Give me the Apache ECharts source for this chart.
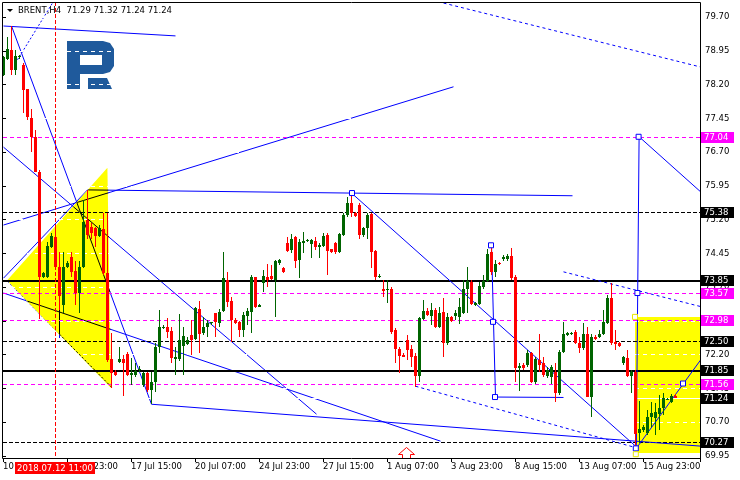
<!DOCTYPE html>
<html><head><meta charset="utf-8">
<script src="https://cdn.jsdelivr.net/npm/echarts@6/dist/echarts.min.js"></script>
<style>html,body{margin:0;padding:0;background:#fff}#c{width:740px;height:480px}</style>
</head><body><div id="c"></div>
<script>
// ---------- DATA (BRENT, H4) ----------
const opens  = [78.41,78.76,78.97,78.52,78.82,78.63,78.09,77.46,77.04,76.26,73.92,73.93,74.60,74.82,74.15,73.30,74.15,74.37,74.07,73.57,74.15,75.19,75.04,75.01,74.84,74.99,74.02,72.10,71.82,72.04,72.10,72.21,71.75,71.75,71.87,71.53,71.80,71.42,71.60,72.38,72.81,72.82,72.73,72.10,72.10,72.39,72.44,72.64,72.54,73.21,72.69,72.81,72.91,73.12,72.91,73.18,73.87,73.40,72.97,72.93,72.75,73.06,73.15,73.92,73.27,73.79,73.93,73.95,73.87,74.23,74.12,74.69,74.52,74.81,74.30,74.69,74.74,74.66,74.73,74.59,74.61,74.86,74.54,74.69,74.47,74.86,75.30,75.56,75.35,75.52,74.86,75.01,75.32,74.51,73.94,73.67,73.64,73.65,72.75,72.32,72.20,72.53,72.32,72.17,71.73,72.99,73.18,73.06,73.19,72.82,73.15,72.45,73.04,73.06,73.04,73.12,73.67,73.82,73.30,73.33,73.71,73.84,74.47,74.04,74.23,74.32,74.32,74.39,73.93,71.90,71.97,71.97,72.23,71.60,72.08,72.02,71.73,71.71,71.81,71.34,72.27,72.64,72.67,72.71,72.47,72.34,72.66,71.27,72.60,72.59,72.66,72.91,73.45,72.49,72.47,72.01,72.13,71.73,71.82,70.47,70.53,70.47,70.81,70.79,70.88,71.01,71.21,71.16,71.29];
const highs  = [78.83,79.26,79.50,78.97,78.86,78.68,78.10,77.66,77.19,76.30,74.04,74.71,74.90,75.04,74.49,74.49,74.27,74.49,74.27,74.27,75.64,75.86,75.12,75.04,75.08,75.35,75.35,72.68,71.86,72.38,72.19,72.27,72.13,72.01,71.95,71.82,71.82,71.82,72.46,73.19,72.86,73.01,72.82,72.38,73.10,72.82,72.60,72.97,73.27,73.40,73.04,72.97,72.93,73.13,73.21,74.47,74.04,73.49,73.01,72.95,73.15,73.23,73.97,73.93,73.33,74.08,74.21,74.19,74.30,74.33,74.14,74.82,74.88,74.84,74.76,74.93,74.78,74.76,74.82,74.69,74.90,74.90,74.55,74.71,74.90,75.34,75.71,75.79,75.37,75.56,75.04,75.34,75.35,74.52,74.00,73.86,73.86,73.71,72.79,72.38,72.23,72.64,72.42,72.23,73.04,73.41,73.23,73.35,73.23,73.27,73.45,73.13,73.06,73.19,73.45,73.86,74.14,73.86,73.38,73.82,73.97,74.54,74.60,74.30,74.25,74.41,74.44,74.56,73.97,72.01,72.01,72.30,72.27,72.15,72.66,72.15,71.93,71.97,72.02,72.30,72.93,72.71,72.71,72.75,72.60,72.91,72.82,72.66,72.64,72.75,73.19,73.53,73.79,72.75,72.49,72.17,72.30,71.86,71.86,71.18,70.64,70.97,71.16,71.12,71.30,71.34,71.23,71.32,71.32];
const lows   = [78.39,78.74,78.41,78.41,78.77,77.57,77.41,76.71,76.26,72.99,73.90,73.90,74.57,74.13,73.19,73.13,74.12,73.93,73.30,73.13,74.12,74.76,74.78,74.60,74.82,73.97,72.04,71.46,71.73,72.01,71.28,71.73,71.53,71.71,71.81,71.49,71.38,71.10,71.37,72.24,72.77,72.57,72.01,71.75,72.05,71.75,72.42,72.19,72.53,72.24,72.64,72.60,72.86,72.60,72.82,73.15,73.27,72.49,72.88,72.60,72.60,72.86,72.69,73.23,73.25,73.60,73.71,73.86,73.04,74.19,74.02,74.49,74.45,74.12,73.90,74.45,74.71,74.34,74.52,74.34,74.60,73.97,74.45,74.44,74.45,74.84,75.26,75.25,75.26,74.78,74.82,74.78,74.12,73.86,73.90,73.49,73.34,72.67,72.02,71.80,72.14,72.08,71.93,71.49,71.60,72.97,73.06,72.86,72.79,72.79,72.15,72.42,72.93,72.97,72.89,73.10,73.12,73.30,73.28,73.30,73.67,73.82,73.97,73.93,74.19,74.27,74.27,73.86,71.60,71.40,71.86,71.93,71.58,71.56,71.82,71.71,71.69,71.56,71.16,71.30,72.23,72.61,72.64,72.44,72.23,72.30,71.25,70.82,72.53,72.56,72.64,72.88,72.42,72.30,72.38,71.97,71.71,71.34,70.12,70.23,70.49,70.42,70.60,70.42,70.53,70.86,71.20,71.12,71.24];
const closes = [78.82,78.98,78.52,78.83,78.83,78.08,77.47,77.03,76.26,73.92,74.02,74.61,74.84,74.15,73.50,74.15,74.24,74.04,73.57,74.15,75.15,74.86,74.90,74.84,75.01,74.01,72.08,71.80,71.75,72.10,72.01,71.75,71.80,71.84,71.88,71.80,71.42,71.60,72.38,72.82,72.82,72.71,72.13,72.15,72.53,72.61,72.53,72.53,73.23,72.67,72.82,72.91,72.92,72.93,73.15,73.90,73.38,72.97,72.91,72.75,73.08,73.18,73.93,73.27,73.30,73.95,73.87,73.89,74.27,74.30,74.04,74.51,74.78,74.29,74.71,74.72,74.75,74.75,74.59,74.64,74.84,74.51,74.48,74.47,74.88,75.30,75.56,75.34,75.28,74.86,75.01,75.30,74.49,73.93,73.95,73.62,73.66,72.71,72.32,72.17,72.15,72.30,72.15,71.73,73.01,73.18,73.08,73.19,72.82,73.13,72.45,73.04,72.95,73.13,73.27,73.67,73.84,73.33,73.35,73.73,73.84,74.44,74.04,74.21,74.21,74.36,74.39,73.90,71.90,71.95,71.90,72.24,71.60,72.10,71.97,71.75,71.87,71.92,71.34,72.27,72.66,72.69,72.68,72.45,72.34,72.66,71.27,72.60,72.54,72.66,72.93,73.45,72.47,72.44,72.39,72.15,71.73,71.82,70.45,70.56,70.60,70.82,70.91,70.93,71.01,71.23,71.22,71.28,71.24];

const timeTickIndex  = [0,16,32,48,64,80,96,112,128,144,160];
const timeTickLabels = ['10 Jul 07:00','12 Jul 23:00','17 Jul 15:00','20 Jul 07:00','24 Jul 23:00','27 Jul 15:00','1 Aug 07:00','3 Aug 23:00','8 Aug 15:00','13 Aug 07:00','15 Aug 23:00'];
const priceTickStart = 69.95, priceTickStep = 0.75;
const plotMinPrice = 69.906, plotMaxPrice = 80.033, lastSlot = 174.25;

// horizontal levels
const levelsSolid       = [73.85, 71.85];
const levelsDashBlack   = [75.38, 72.50, 70.27];
const levelsDashMagenta = [77.04, 73.57, 72.98, 71.56];
const bidLevel          = [71.24];
const tagsBlack   = [75.38, 73.85, 72.50, 71.85, 71.24, 70.27];
const tagsMagenta = [77.04, 73.57, 72.98, 71.56];

// trend lines [bar1, price1, bar2, price2]
const trendUnder = [
  [0, 79.50, 43, 79.28],
  [2, 79.50, 37, 71.10],
  [0, 76.81, 78.25, 70.88],
  [0, 75.08, 112.5, 78.15],
  [21, 75.86, 142.25, 75.73],
  [0, 73.57, 109.25, 70.28],
  [0, 73.90, 21, 75.86],
  [14, 73.79, 14, 72.57]
];
const trendUnderDotted = [
  [1, 73.83, 27, 71.48],
  [3.5, 78.75, 12.25, 80.01]
];
const trendOver = [
  [37, 71.10, 174.25, 70.17],
  [87, 75.79, 158.25, 70.15],
  [122, 74.63, 122.5, 72.93],
  [122.5, 72.93, 123, 71.26],
  [123, 71.26, 140, 71.25],
  [158.2, 70.12, 158.9, 77.04],
  [158.9, 77.04, 174.25, 75.82],
  [158.2, 70.12, 174.25, 72.08]
];
const trendOverDotted = [
  [103, 71.50, 157.5, 70.15],
  [140, 74.04, 174.25, 73.27],
  [110, 80.01, 174.25, 78.59]
];
const triangleZone = [[1, 73.85], [26.1, 76.35], [27, 71.46]];
const rectZone = [[158, 73.04], [180, 70.02]];
const anchorPoints = [[87.25,75.79],[122,74.63],[122.5,72.93],[123,71.26],[158.9,77.04],[158.6,73.57],[158.2,70.12],[170,71.56]];
const zoneAnchors = [[158,73.04],[158.2,69.99]];
const arrowMarks = [[100.75, 70.15]];
const cursorBar = 13, cursorLabel = '2018.07.12 11:00';
const headerText = 'BRENT,H4  71.29 71.32 71.24 71.24';

// ---------- CHART ----------
const FONT = 'DejaVu Sans';
const GREEN = '#006400', RED = '#ff0000', BLUE = '#0000ff', MAGENTA = '#ff00ff';
const LOGO = '#1f5a9c';

// clip segment a-b against convex polygon (Cyrus-Beck), returns [p,q] or null
function clipToPoly(a, b, poly){
  let t0 = 0, t1 = 1;
  const dx = b[0]-a[0], dy = b[1]-a[1];
  // orientation
  let area = 0;
  for (let k = 0; k < poly.length; k++){ const p = poly[k], q = poly[(k+1)%poly.length]; area += p[0]*q[1]-q[0]*p[1]; }
  const s = area > 0 ? 1 : -1;
  for (let k = 0; k < poly.length; k++){
    const p = poly[k], q = poly[(k+1)%poly.length];
    const nx = -(q[1]-p[1])*s, ny = (q[0]-p[0])*s; // inward normal
    const num = nx*(a[0]-p[0]) + ny*(a[1]-p[1]);
    const den = nx*dx + ny*dy;
    if (Math.abs(den) < 1e-9){ if (num < 0) return null; continue; }
    const t = -num/den;
    if (den > 0) t0 = Math.max(t0, t); else t1 = Math.min(t1, t);
    if (t0 > t1) return null;
  }
  return [[a[0]+dx*t0, a[1]+dy*t0], [a[0]+dx*t1, a[1]+dy*t1]];
}

function segSeries(segs, dash, z, insideZone){
  return {type:'custom', xAxisIndex:0, yAxisIndex:0, z, clip:true, silent:true,
    encode:{x:[0,2], y:[1,3]}, data: segs,
    renderItem(params, api){
      let a = api.coord([api.value(0), api.value(1)]);
      let b = api.coord([api.value(2), api.value(3)]);
      let color = BLUE;
      if (insideZone){
        const poly = triangleZone.map(p => api.coord(p));
        const r = clipToPoly(a, b, poly);
        if (!r) return null;
        a = r[0]; b = r[1]; color = '#000';
      }
      const st = {stroke:color, lineWidth:1};
      if (dash) st.lineDash = dash;
      return {type:'line', shape:{x1:a[0]+0.5, y1:a[1], x2:b[0]+0.5, y2:b[1]}, style:st};
    }};
}
function hLineSeries(levels, color, width, dash, z){
  return {type:'custom', xAxisIndex:0, yAxisIndex:0, z, clip:false, silent:true,
    data: levels.map(v => [0, v]),
    renderItem(params, api){
      const cs = params.coordSys;
      const y = api.coord([0, api.value(1)])[1];
      const yy = width === 2 ? Math.round(y) + 1 : Math.round(y) + 0.5;
      const st = {stroke:color, lineWidth:width};
      if (dash) st.lineDash = dash;
      return {type:'line', shape:{x1:cs.x, y1:yy, x2:cs.x + cs.width, y2:yy}, style:st};
    }};
}
function tagSeries(levels, color){
  return {type:'custom', xAxisIndex:0, yAxisIndex:0, z:8, clip:false, silent:true,
    data: levels.map(v => [0, v]),
    renderItem(params, api){
      const cs = params.coordSys;
      const v = api.value(1);
      const y = Math.round(api.coord([0, v])[1]);
      const x0 = cs.x + cs.width + 1;
      return {type:'group', children:[
        {type:'rect', shape:{x:x0, y:y-5, width:33, height:11}, style:{fill:color}},
        {type:'text', x:x0+3, y:y+0.5, style:{text:v.toFixed(2), fill:'#fff', font:'8.5px "DejaVu Sans"', verticalAlign:'middle', align:'left'}}
      ]};
    }};
}

const chart = echarts.init(document.getElementById('c'), null, {renderer:'canvas', width:740, height:480});
const option = {
  backgroundColor:'#ffffff',
  animation:false,
  grid:[
    {left:3, right:40, top:2, bottom:22, show:false},
    {left:3, right:40, top:2, bottom:24, show:false}
  ],
  xAxis:[
    {type:'value', gridIndex:0, min:0, max:lastSlot, interval:16, position:'bottom',
     axisLine:{show:false}, axisTick:{show:true, length:4, lineStyle:{color:'#000'}},
     splitLine:{show:false},
     axisLabel:{show:true, align:'left', margin:4, color:'#000', fontFamily:FONT, fontSize:8.5,
       formatter: v => { const k = timeTickIndex.indexOf(Math.round(v)); return (k >= 0 && Math.abs(v-Math.round(v))<1e-6) ? timeTickLabels[k] : ''; }}},
    {type:'value', gridIndex:1, min:0, max:lastSlot, show:false}
  ],
  yAxis:[
    {type:'value', gridIndex:0, min:plotMinPrice, max:plotMaxPrice, show:false},
    {type:'value', gridIndex:1, min:priceTickStart, max:plotMaxPrice, interval:priceTickStep, position:'right', z:3,
     axisLine:{show:false}, axisTick:{show:true, length:3, lineStyle:{color:'#000'}},
     splitLine:{show:true, lineStyle:{color:'#ffffff', type:[4,4], width:1}},
     axisLabel:{show:true, margin:5, color:'#000', fontFamily:FONT, fontSize:8.5,
       formatter: v => { const k = (v - priceTickStart)/priceTickStep; return Math.abs(k - Math.round(k)) < 1e-6 ? v.toFixed(2) : ''; }}}
  ],
  graphic:[
    {type:'rect', z:100, silent:true, shape:{x:2.5, y:2.5, width:698, height:456}, style:{fill:'transparent', stroke:'#000', lineWidth:1}},
    {type:'polygon', z:100, shape:{points:[[7,9],[13,9],[10,12]]}, style:{fill:'#000'}},
    {type:'text', z:100, x:18, y:11, style:{text:headerText, fill:'#000', font:'8.5px "DejaVu Sans"', verticalAlign:'middle'}},
    {type:'polygon', z:1, shape:{points:[[67,41],[103,41],[110,43],[114,49],[114,66],[110,72],[103,74],[80,74],[80,89],[67,89]]}, style:{fill:LOGO}},
    {type:'rect', z:1, shape:{x:80, y:55, width:22, height:10}, style:{fill:'#ffffff'}},
    {type:'polygon', z:1, shape:{points:[[88,78],[107,78],[112,89],[88,89]]}, style:{fill:LOGO}}
  ],
  series:[
    segSeries(trendUnder, null, 1, false),
    segSeries(trendUnderDotted, [2,2], 1, false),
    {type:'custom', xAxisIndex:0, yAxisIndex:0, z:2, clip:true, silent:true,
     data:[[0, 72]],
     renderItem(params, api){
       return {type:'polygon', shape:{points: triangleZone.map(p => api.coord(p))},
         style:{fill:'#ffff00'}};
     }},
    {type:'custom', xAxisIndex:0, yAxisIndex:0, z:2, clip:true, silent:true,
     data:[[0, 72]],
     renderItem(params, api){
       const a = api.coord(rectZone[0]), b = api.coord(rectZone[1]);
       return {type:'rect', shape:{x:Math.round(a[0]), y:Math.round(a[1]), width:b[0]-a[0], height:Math.round(b[1])-Math.round(a[1])},
         style:{fill:'#ffff00'}};
     }},
    segSeries(trendUnder, null, 3, true),
    segSeries(trendUnderDotted, [2,2], 3, true),
    hLineSeries(levelsDashBlack, '#000', 1, [4,2], 4),
    hLineSeries(levelsDashMagenta, MAGENTA, 1, [4,3], 4),
    hLineSeries(levelsSolid, '#000', 2, null, 4),
    hLineSeries(bidLevel, '#fff', 1, null, 4),
    {type:'custom', xAxisIndex:0, yAxisIndex:0, z:7, clip:false, silent:true,
     data:[[cursorBar, plotMinPrice]],
     renderItem(params, api){
       const cs = params.coordSys;
       const x = Math.round(api.coord([api.value(0), api.value(1)])[0]);
       const dashes = [];
       for (let y = cs.y; y < cs.y + cs.height; y += 6) {
         dashes.push({type:'rect', shape:{x:x, y:y, width:1, height:Math.min(4, cs.y + cs.height - y)}, style:{fill:'#ff0000'}});
       }
       return {type:'group', children:dashes};
     }},
    segSeries(trendOver, null, 4, false),
    segSeries(trendOverDotted, [3,3], 4, false),
    {type:'custom', name:'BRENT', xAxisIndex:0, yAxisIndex:0, z:5, clip:true, silent:true,
     encode:{x:0, y:[1,2,3,4]},
     data: opens.map((o,k) => [k, o, highs[k], lows[k], closes[k]]),
     renderItem(params, api){
       const i = api.value(0), o = api.value(1), h = api.value(2), l = api.value(3), c = api.value(4);
       const ph = api.coord([i,h]), pl = api.coord([i,l]), po = api.coord([i,o]), pc = api.coord([i,c]);
       const col = c >= o ? GREEN : RED;
       const cx = Math.round(ph[0]);
       const yh = Math.round(ph[1]), yl = Math.round(pl[1]);
       const yt = Math.round(Math.min(po[1], pc[1])), yb = Math.round(Math.max(po[1], pc[1]));
       return {type:'group', children:[
         {type:'rect', shape:{x:cx, y:yh, width:1, height:Math.max(1, yl-yh)}, style:{fill:col}},
         {type:'rect', shape:{x:cx-1, y:yt, width:3, height:Math.max(1, yb-yt)}, style:{fill:col}}
       ]};
     }},
    {type:'custom', xAxisIndex:0, yAxisIndex:0, z:6, clip:true, silent:true,
     data: arrowMarks,
     renderItem(params, api){
       const p = api.coord([api.value(0), api.value(1)]);
       const x = Math.round(p[0]) + 0.5, y = Math.round(p[1]) + 0.5;
       return {type:'polygon', shape:{points:[[x,y],[x+8,y+7],[x+4,y+7],[x+4,y+13],[x-4,y+13],[x-4,y+7],[x-8,y+7]]},
         style:{fill:'transparent', stroke:'#ff0000', lineWidth:1}};
     }},
    {type:'scatter', xAxisIndex:0, yAxisIndex:0, z:6, silent:true, clip:false,
     symbol:'rect', symbolSize:5, data: anchorPoints,
     itemStyle:{color:'#ffffff', borderColor:BLUE, borderWidth:1, opacity:1}},
    {type:'scatter', xAxisIndex:0, yAxisIndex:0, z:6, silent:true, clip:false,
     symbol:'rect', symbolSize:5, data: zoneAnchors,
     itemStyle:{color:'#ffffff', borderColor:'#e8e800', borderWidth:1, opacity:1}},
    tagSeries(tagsBlack, '#000'),
    tagSeries(tagsMagenta, MAGENTA),
    {type:'custom', xAxisIndex:0, yAxisIndex:0, z:9, clip:false, silent:true,
     data:[[cursorBar, plotMinPrice]],
     renderItem(params, api){
       const cs = params.coordSys;
       const x = Math.round(api.coord([api.value(0), api.value(1)])[0]);
       const y0 = cs.y + cs.height + 4;
       return {type:'group', children:[
         {type:'rect', shape:{x:x-40, y:y0, width:80, height:12}, style:{fill:'#ff0000'}},
         {type:'text', x:x, y:y0+6.5, style:{text:cursorLabel, fill:'#fff', font:'8.5px "DejaVu Sans"', align:'center', verticalAlign:'middle'}}
       ]};
     }}
  ]
};
try { chart.setOption(option); } catch (e) { console.error(e && e.stack); throw e; }
</script>
</body></html>
